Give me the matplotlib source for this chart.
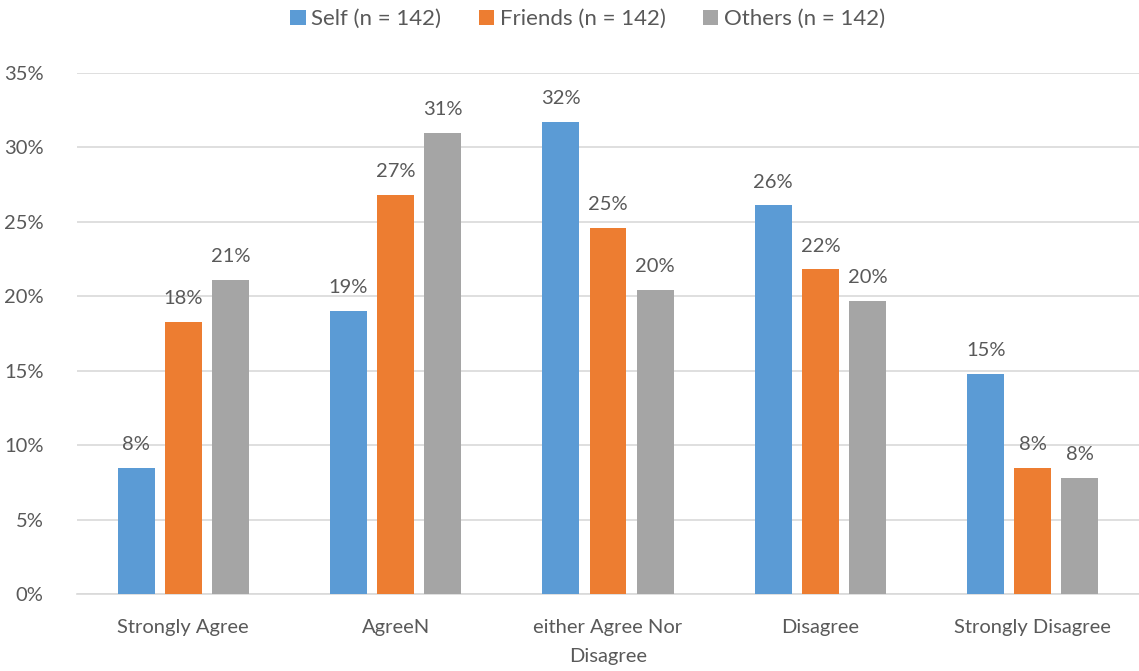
import matplotlib.pyplot as plt
import numpy as np

categories = ["Strongly Agree", "AgreeN", "either Agree Nor\nDisagree", "Disagree", "Strongly Disagree"]
series_names = ["Self (n = 142)", "Friends (n = 142)", "Others (n = 142)"]
self_pct = [8.45, 19.0, 31.7, 26.1, 14.8]
friends_pct = [18.3, 26.8, 24.6, 21.8, 8.45]
others_pct = [21.1, 31.0, 20.4, 19.7, 7.8]
colors = ["#5B9BD5", "#ED7D31", "#A5A5A5"]

plt.rcParams['font.family'] = ['Lato', 'DejaVu Sans']
text_color = "#595959"
fs = 14.5

fig = plt.figure(figsize=(11.39, 6.71), dpi=100)
ax = fig.add_axes([0.0676, 0.1148, 0.9324, 0.7764])

x = np.arange(len(categories))
width = 0.174
offset = 0.222
for i, (vals, name, c) in enumerate(zip([self_pct, friends_pct, others_pct], series_names, colors)):
    pos = x + (i - 1) * offset
    ax.bar(pos, vals, width, color=c, label=name, zorder=3)
    for px, v in zip(pos, vals):
        ax.text(px, v + 1.0, f"{v:.0f}%", ha="center", va="bottom",
                fontsize=fs, color=text_color)

ax.set_xlim(-0.5, len(categories) - 0.5)
ax.set_ylim(0, 35)
ax.set_yticks(np.arange(0, 36, 5))
ax.set_yticklabels([f"{t}%" for t in range(0, 36, 5)])
ax.set_xticks(x)
ax.set_xticklabels(categories, linespacing=1.85)
ax.tick_params(axis="both", length=0, labelsize=fs, labelcolor=text_color)
ax.tick_params(axis="x", pad=18)
ax.tick_params(axis="y", pad=24)
ax.grid(axis="y", color="#D9D9D9", linewidth=1.2, zorder=0)
for s in ["top", "right", "left"]:
    ax.spines[s].set_visible(False)
ax.spines["bottom"].set_color("#D9D9D9")
ax.spines["bottom"].set_linewidth(1.2)

fig.legend(loc="upper center", bbox_to_anchor=(0.516, 1.016), ncol=3, frameon=False,
           fontsize=16, labelcolor=text_color, handlelength=0.68, handleheight=0.68,
           handletextpad=0.25, columnspacing=1.7)

fig.savefig("out.png", dpi=100)
